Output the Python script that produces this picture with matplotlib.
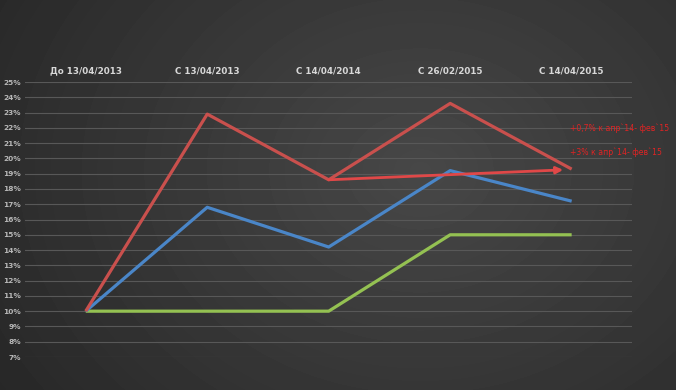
import numpy as np
import matplotlib.pyplot as plt

categories = ['До 13/04/2013', 'С 13/04/2013', 'С 14/04/2014', 'С 26/02/2015', 'С 14/04/2015']
red_vals = [10.0, 22.9, 18.6, 23.6, 19.3]
blue_vals = [10.0, 16.8, 14.2, 19.2, 17.2]
green_vals = [10.0, 10.0, 10.0, 15.0, 15.0]
yticks = list(range(7, 26))
notes = ['+0,7% к апр`14- фев`15', '+3% к апр`14- фев`15']

fig = plt.figure(figsize=(6.76, 3.9), dpi=100)

# dark radial gradient background
bg = fig.add_axes([0, 0, 1, 1])
yy, xx = np.mgrid[0:390, 0:676]
r = np.sqrt(((xx - 420) / 520.0) ** 2 + ((yy - 170) / 420.0) ** 2)
shade = np.clip(0.28 - 0.13 * r, 0.14, 0.28)
bg.imshow(shade, cmap='gray', vmin=0, vmax=1, aspect='auto', extent=[0, 676, 390, 0])
bg.axis('off')

ax = fig.add_axes([0.037, 0.0846, 0.8985, 0.7051])
ax.patch.set_alpha(0)
x = np.arange(len(categories))

for v in yticks:
    ax.axhline(v, color='#585858', lw=0.8, zorder=1)

ax.plot(x, green_vals, color='#94c152', lw=2.3, zorder=3, solid_capstyle='butt')
ax.plot(x, blue_vals, color='#4a86c8', lw=2.3, zorder=3, solid_capstyle='butt')
ax.plot(x, red_vals, color='#c9504d', lw=2.3, zorder=4, solid_capstyle='butt')

ax.annotate('', xy=(3.93, 19.25), xytext=(2, red_vals[2]),
            arrowprops=dict(arrowstyle='-|>', color='#e04848', lw=2.0,
                            mutation_scale=10, shrinkA=0, shrinkB=0), zorder=5)

ax.set_xlim(-0.5, 4.5)
ax.set_ylim(7, 25)
ax.set_yticks(yticks)
ax.set_yticklabels([f'{v}%' for v in yticks])
ax.set_xticks(x)
ax.set_xticklabels(categories)
ax.xaxis.tick_top()
ax.tick_params(axis='y', length=0, pad=3, labelsize=5.3, labelcolor='#b8b8b8')
ax.tick_params(axis='x', length=0, pad=5, labelsize=6.3, labelcolor='#d8d8d8')
for t in ax.get_xticklabels() + ax.get_yticklabels():
    t.set_fontweight('bold')
for s in ax.spines.values():
    s.set_visible(False)

fig.text(570 / 676, 1 - 128 / 390, notes[0], color='#e02424', fontsize=5.6,
         va='center', ha='left')
fig.text(570 / 676, 1 - 152 / 390, notes[1], color='#e02424', fontsize=5.6,
         va='center', ha='left')

fig.savefig('out.png', dpi=100)
